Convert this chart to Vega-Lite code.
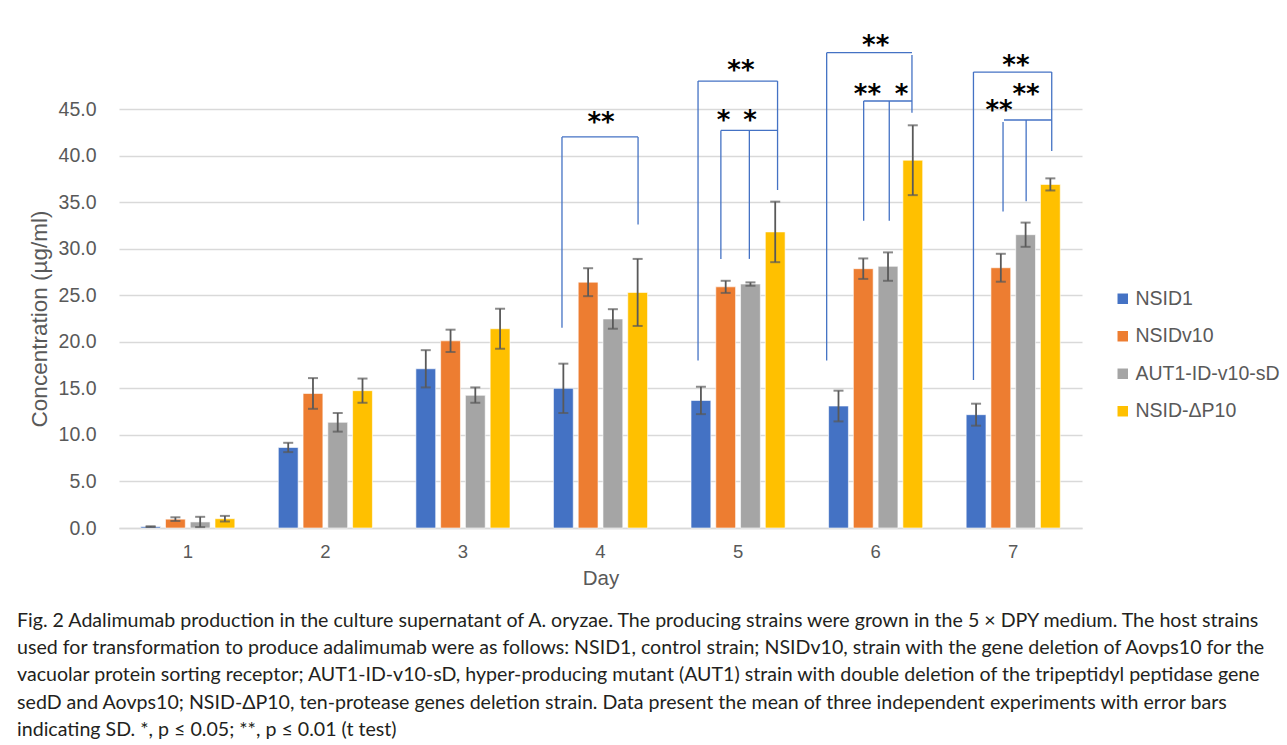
{
  "$schema": "https://vega.github.io/schema/vega-lite/v6.json",
  "width": 963,
  "height": 419,
  "autosize": {"type": "none"},
  "padding": {"left": 119, "top": 109, "right": 205, "bottom": 217},
  "background": "white",
  "config": {"view": {"stroke": null}, "font": "Liberation Sans"},
  "datasets": {
    "bars": [
      {"Day": "1", "Strain": "NSID1", "Mean": 0.15, "Lo": 0.1, "Hi": 0.2},
      {"Day": "1", "Strain": "NSIDv10", "Mean": 0.95, "Lo": 0.75, "Hi": 1.15},
      {"Day": "1", "Strain": "AUT1-ID-v10-sD", "Mean": 0.65, "Lo": 0.1, "Hi": 1.2},
      {"Day": "1", "Strain": "NSID-ΔP10", "Mean": 1.0, "Lo": 0.7, "Hi": 1.3},
      {"Day": "2", "Strain": "NSID1", "Mean": 8.65, "Lo": 8.15, "Hi": 9.15},
      {"Day": "2", "Strain": "NSIDv10", "Mean": 14.45, "Lo": 12.8, "Hi": 16.1},
      {"Day": "2", "Strain": "AUT1-ID-v10-sD", "Mean": 11.35, "Lo": 10.35, "Hi": 12.35},
      {"Day": "2", "Strain": "NSID-ΔP10", "Mean": 14.75, "Lo": 13.45, "Hi": 16.05},
      {"Day": "3", "Strain": "NSID1", "Mean": 17.1, "Lo": 15.1, "Hi": 19.1},
      {"Day": "3", "Strain": "NSIDv10", "Mean": 20.1, "Lo": 18.9, "Hi": 21.3},
      {"Day": "3", "Strain": "AUT1-ID-v10-sD", "Mean": 14.25, "Lo": 13.45, "Hi": 15.1},
      {"Day": "3", "Strain": "NSID-ΔP10", "Mean": 21.4, "Lo": 19.25, "Hi": 23.55},
      {"Day": "4", "Strain": "NSID1", "Mean": 15.0, "Lo": 12.35, "Hi": 17.65},
      {"Day": "4", "Strain": "NSIDv10", "Mean": 26.4, "Lo": 24.9, "Hi": 27.9},
      {"Day": "4", "Strain": "AUT1-ID-v10-sD", "Mean": 22.45, "Lo": 21.4, "Hi": 23.5},
      {"Day": "4", "Strain": "NSID-ΔP10", "Mean": 25.3, "Lo": 21.7, "Hi": 28.9},
      {"Day": "5", "Strain": "NSID1", "Mean": 13.7, "Lo": 12.23, "Hi": 15.17},
      {"Day": "5", "Strain": "NSIDv10", "Mean": 25.9, "Lo": 25.25, "Hi": 26.55},
      {"Day": "5", "Strain": "AUT1-ID-v10-sD", "Mean": 26.2, "Lo": 26.02, "Hi": 26.38},
      {"Day": "5", "Strain": "NSID-ΔP10", "Mean": 31.8, "Lo": 28.55, "Hi": 35.05},
      {"Day": "6", "Strain": "NSID1", "Mean": 13.1, "Lo": 11.45, "Hi": 14.75},
      {"Day": "6", "Strain": "NSIDv10", "Mean": 27.85, "Lo": 26.75, "Hi": 28.95},
      {"Day": "6", "Strain": "AUT1-ID-v10-sD", "Mean": 28.1, "Lo": 26.55, "Hi": 29.6},
      {"Day": "6", "Strain": "NSID-ΔP10", "Mean": 39.5, "Lo": 35.75, "Hi": 43.25},
      {"Day": "7", "Strain": "NSID1", "Mean": 12.17, "Lo": 10.99, "Hi": 13.35},
      {"Day": "7", "Strain": "NSIDv10", "Mean": 27.95, "Lo": 26.45, "Hi": 29.45},
      {"Day": "7", "Strain": "AUT1-ID-v10-sD", "Mean": 31.5, "Lo": 30.2, "Hi": 32.8},
      {"Day": "7", "Strain": "NSID-ΔP10", "Mean": 36.9, "Lo": 36.25, "Hi": 37.55}
    ],
    "brackets": [
      {"x": 3.72, "x2": 3.72, "y": 21.5, "y2": 42.0},
      {"x": 3.72, "x2": 4.273, "y": 42.0, "y2": 42.0},
      {"x": 4.273, "x2": 4.273, "y": 42.0, "y2": 32.6},
      {"x": 4.709, "x2": 4.709, "y": 18.0, "y2": 48.0},
      {"x": 4.709, "x2": 5.287, "y": 48.0, "y2": 48.0},
      {"x": 5.287, "x2": 5.287, "y": 48.0, "y2": 36.3},
      {"x": 4.875, "x2": 5.287, "y": 42.7, "y2": 42.7},
      {"x": 4.875, "x2": 4.875, "y": 28.9, "y2": 42.7},
      {"x": 5.082, "x2": 5.082, "y": 28.9, "y2": 42.7},
      {"x": 5.644, "x2": 5.644, "y": 18.0, "y2": 51.05},
      {"x": 5.644, "x2": 6.264, "y": 51.05, "y2": 51.05},
      {"x": 6.264, "x2": 6.264, "y": 50.8, "y2": 44.6},
      {"x": 5.913, "x2": 6.264, "y": 45.86, "y2": 45.86},
      {"x": 5.913, "x2": 5.913, "y": 33.0, "y2": 45.86},
      {"x": 6.099, "x2": 6.099, "y": 33.0, "y2": 45.86},
      {"x": 6.711, "x2": 6.711, "y": 15.9, "y2": 48.97},
      {"x": 6.711, "x2": 7.28, "y": 48.97, "y2": 48.97},
      {"x": 7.28, "x2": 7.28, "y": 48.97, "y2": 40.5},
      {"x": 6.933, "x2": 7.28, "y": 43.82, "y2": 43.82},
      {"x": 6.926, "x2": 6.926, "y": 34.0, "y2": 43.6},
      {"x": 7.094, "x2": 7.094, "y": 35.1, "y2": 43.82}
    ],
    "stars": [
      {"x": 4.004, "y": 44.3, "t": "**"},
      {"x": 4.894, "y": 44.5, "t": "*"},
      {"x": 5.087, "y": 44.5, "t": "*"},
      {"x": 5.021, "y": 49.85, "t": "**"},
      {"x": 5.94, "y": 47.26, "t": "**"},
      {"x": 6.189, "y": 47.26, "t": "*"},
      {"x": 6.0, "y": 52.5, "t": "**"},
      {"x": 6.897, "y": 45.5, "t": "**"},
      {"x": 7.093, "y": 47.3, "t": "**"},
      {"x": 7.02, "y": 50.4, "t": "**"}
    ]
  },
  "title": {
    "text": [
      "Fig. 2  Adalimumab production in the culture supernatant of A. oryzae. The producing strains were grown in the 5 × DPY medium. The host strains",
      "used for transformation to produce adalimumab were as follows: NSID1, control strain; NSIDv10, strain with the gene deletion of Aovps10 for the",
      "vacuolar protein sorting receptor; AUT1-ID-v10-sD, hyper-producing mutant (AUT1) strain with double deletion of the tripeptidyl peptidase gene",
      "sedD and Aovps10; NSID-ΔP10, ten-protease genes deletion strain. Data present the mean of three independent experiments with error bars",
      "indicating SD. *, p ≤ 0.05; **, p ≤ 0.01 (t test)"
    ],
    "orient": "bottom",
    "anchor": "start",
    "frame": "bounds",
    "dx": -11,
    "offset": 23,
    "font": "Lato",
    "fontSize": 19.6,
    "fontWeight": "normal",
    "color": "#231f20",
    "lineHeight": 27.2
  },
  "layer": [
    {
      "data": {"name": "bars"},
      "encoding": {
        "x": {
          "field": "Day", "type": "ordinal",
          "scale": {"paddingInner": 0.28, "paddingOuter": 0.14},
          "axis": {
            "title": "Day", "labelAngle": 0, "labelFontSize": 18.5, "labelColor": "#595959",
            "labelPadding": 14, "titleFontSize": 20.5, "titleColor": "#595959", "titleFontWeight": "normal",
            "titlePadding": 8, "domainColor": "#d9d9d9", "domainWidth": 1.5, "ticks": false, "grid": false
          }
        },
        "xOffset": {
          "field": "Strain", "type": "nominal",
          "sort": ["NSID1", "NSIDv10", "AUT1-ID-v10-sD", "NSID-ΔP10"],
          "scale": {"paddingInner": 0.2, "paddingOuter": 0.1}
        }
      },
      "layer": [
        {
          "mark": {"type": "bar", "stroke": "white", "strokeOpacity": 0.6, "strokeWidth": 1},
          "encoding": {
            "y": {
              "field": "Mean", "type": "quantitative",
              "scale": {"domain": [0, 45], "nice": false},
              "axis": {
                "values": [0, 5, 10, 15, 20, 25, 30, 35, 40, 45], "format": ".1f",
                "labelFontSize": 19.5, "labelColor": "#595959", "labelPadding": 23,
                "domain": false, "ticks": false, "gridColor": "#d9d9d9", "gridWidth": 1.5,
                "title": "Concentration (µg/ml)", "titleFontSize": 22.5, "titleFontWeight": "normal",
                "titleColor": "#595959", "titlePadding": 7
              }
            },
            "color": {
              "field": "Strain", "type": "nominal",
              "sort": ["NSID1", "NSIDv10", "AUT1-ID-v10-sD", "NSID-ΔP10"],
              "scale": {
                "domain": ["NSID1", "NSIDv10", "AUT1-ID-v10-sD", "NSID-ΔP10"],
                "range": ["#4472c4", "#ed7d31", "#a5a5a5", "#ffc000"]
              },
              "legend": {
                "title": null, "orient": "none", "legendX": 994, "legendY": 180,
                "symbolType": "square", "symbolSize": 110, "symbolStrokeWidth": 0,
                "labelFontSize": 19.5, "labelColor": "#595959", "rowPadding": 16.5, "labelOffset": 3
              }
            }
          }
        },
        {
          "mark": {"type": "rule", "color": "#595959", "strokeWidth": 1.8},
          "encoding": {
            "y": {"field": "Lo", "type": "quantitative", "scale": {"domain": [0, 45], "nice": false}},
            "y2": {"field": "Hi"}
          }
        },
        {
          "mark": {"type": "tick", "color": "#595959", "size": 10, "thickness": 2},
          "encoding": {
            "y": {"field": "Lo", "type": "quantitative", "scale": {"domain": [0, 45], "nice": false}}
          }
        },
        {
          "mark": {"type": "tick", "color": "#595959", "size": 10, "thickness": 2},
          "encoding": {
            "y": {"field": "Hi", "type": "quantitative", "scale": {"domain": [0, 45], "nice": false}}
          }
        }
      ]
    },
    {
      "data": {"name": "brackets"},
      "mark": {"type": "rule", "color": "#4472c4", "strokeWidth": 1.3, "clip": false},
      "encoding": {
        "x": {"field": "x", "type": "quantitative", "scale": {"domain": [0.5, 7.5], "nice": false, "zero": false}, "axis": null},
        "x2": {"field": "x2"},
        "y": {"field": "y", "type": "quantitative", "scale": {"domain": [0, 45], "nice": false}},
        "y2": {"field": "y2"}
      }
    },
    {
      "data": {"name": "stars"},
      "mark": {"type": "text", "font": "DejaVu Sans", "fontWeight": "bold", "fontSize": 26, "baseline": "alphabetic", "dy": 15, "color": "#000000", "clip": false},
      "encoding": {
        "x": {"field": "x", "type": "quantitative", "scale": {"domain": [0.5, 7.5], "nice": false, "zero": false}, "axis": null},
        "y": {"field": "y", "type": "quantitative", "scale": {"domain": [0, 45], "nice": false}},
        "text": {"field": "t"}
      }
    }
  ],
  "resolve": {"scale": {"x": "independent"}}
}
